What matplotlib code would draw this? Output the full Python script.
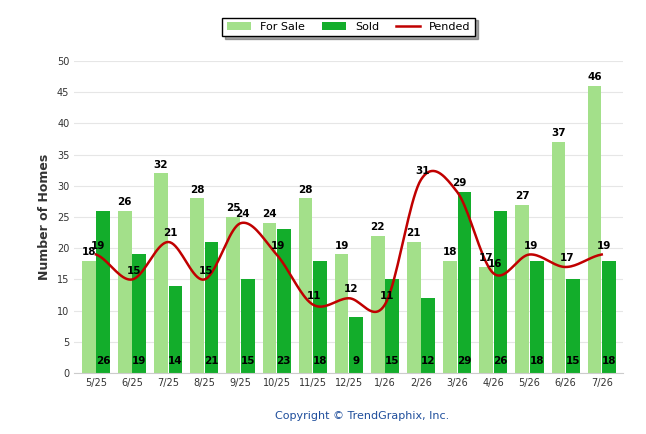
import numpy as np
import matplotlib.pyplot as plt

months = ["5/25", "6/25", "7/25", "8/25", "9/25", "10/25", "11/25", "12/25",
          "1/26", "2/26", "3/26", "4/26", "5/26", "6/26", "7/26"]
for_sale = [18, 26, 32, 28, 25, 24, 28, 19, 22, 21, 18, 17, 27, 37, 46]
sold = [26, 19, 14, 21, 15, 23, 18, 9, 15, 12, 29, 26, 18, 15, 18]
pended = [19, 15, 21, 15, 24, 19, 11, 12, 11, 31, 29, 16, 19, 17, 19]


def smooth(x, y, n=20):
    # Catmull-Rom spline through the points, only for drawing the curve
    x = np.asarray(x, float)
    y = np.asarray(y, float)
    px = np.concatenate([[2 * x[0] - x[1]], x, [2 * x[-1] - x[-2]]])
    py = np.concatenate([[y[0]], y, [y[-1]]])
    xs, ys = [], []
    t = np.linspace(0, 1, n, endpoint=False)
    for i in range(1, len(px) - 2):
        for arr, out in ((px, xs), (py, ys)):
            p0, p1, p2, p3 = arr[i - 1:i + 3]
            out.extend(0.5 * (2 * p1 + (-p0 + p2) * t
                              + (2 * p0 - 5 * p1 + 4 * p2 - p3) * t ** 2
                              + (-p0 + 3 * p1 - 3 * p2 + p3) * t ** 3))
    xs.append(x[-1])
    ys.append(y[-1])
    return xs, ys


fig, ax = plt.subplots(figsize=(6.46, 4.34), dpi=100)
fig.subplots_adjust(left=0.115, right=0.965, top=0.86, bottom=0.14)

x = np.arange(len(months))
w = 0.38
b1 = ax.bar(x - 0.2, for_sale, w, color="#a3e08a", label="For Sale", zorder=2)
b2 = ax.bar(x + 0.2, sold, w, color="#13ad2b", label="Sold", zorder=2)
sx, sy = smooth(x, pended)
ax.plot(sx, sy, color="#c00000", lw=1.8, label="Pended", zorder=3)

lab = dict(fontsize=7.5, fontweight="bold", ha="center", zorder=4)
for i in range(len(months)):
    ax.text(x[i] - 0.2, for_sale[i] + 0.6, str(for_sale[i]), va="bottom", **lab)
    ax.text(x[i] + 0.2, 1.2, str(sold[i]), va="bottom", **lab)
    ax.text(x[i] + 0.05, pended[i] + 0.6, str(pended[i]), va="bottom", **lab)

ax.set_xlim(-0.6, len(months) - 0.4)
ax.set_ylim(0, 50)
ax.set_yticks(range(0, 51, 5))
ax.set_xticks(x)
ax.set_xticklabels(months)
ax.tick_params(labelsize=7, colors="#333333", length=0)
ax.grid(axis="y", color="#e6e6e6", lw=0.8, zorder=0)
for s in ["top", "right", "left"]:
    ax.spines[s].set_visible(False)
ax.spines["bottom"].set_color("#cccccc")
ax.set_ylabel("Number of Homes", fontsize=9, fontweight="bold", color="#333333")

handles, labels = ax.get_legend_handles_labels()
order = [labels.index(k) for k in ["For Sale", "Sold", "Pended"]]
leg = ax.legend([handles[i] for i in order], [labels[i] for i in order],
                loc="lower center", bbox_to_anchor=(0.5, 1.06), ncol=3,
                fontsize=8, frameon=True, fancybox=False, shadow=True,
                handlelength=2.2, columnspacing=1.5)
leg.get_frame().set_edgecolor("#000000")

fig.text(0.56, 0.035, "Copyright \u00a9 TrendGraphix, Inc.", ha="center",
         fontsize=8, color="#1f4e9c")
fig.savefig("out.png")
